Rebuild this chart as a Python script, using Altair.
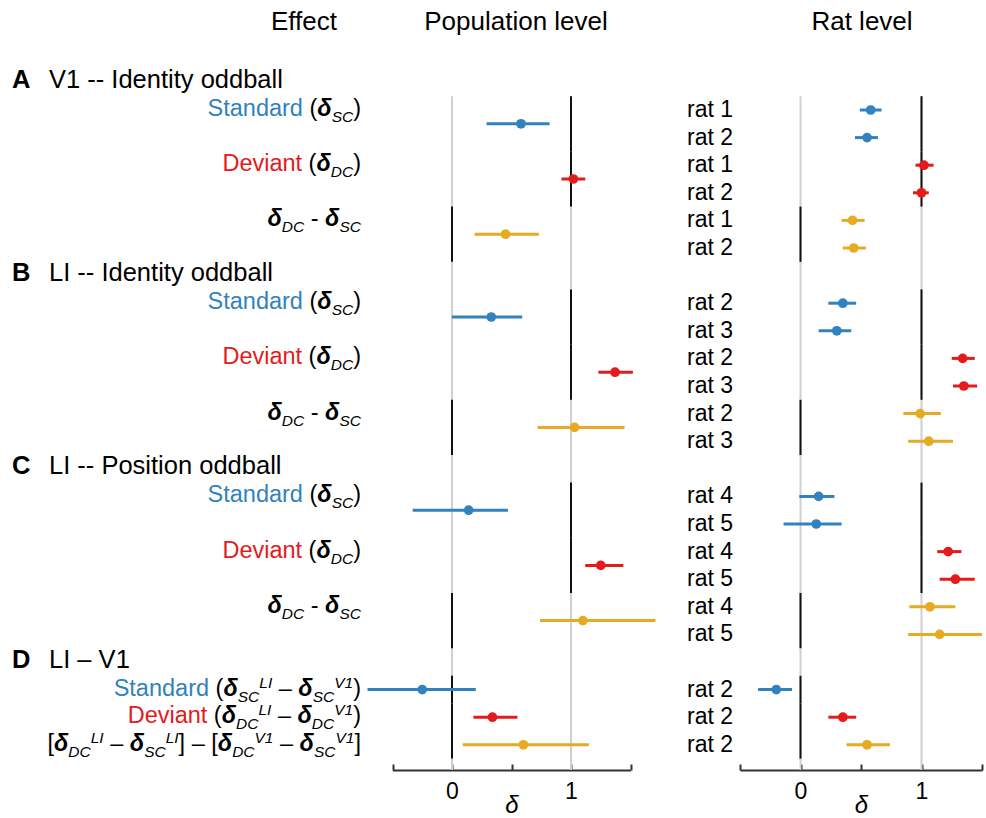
import altair as alt
import pandas as pd

# ---------------------------------------------------------------- data ----
SECTION_LETTERS = ["A", "B", "C", "D"]
SECTION_TITLES = ["V1 -- Identity oddball", "LI -- Identity oddball",
                  "LI -- Position oddball", "LI – V1"]
SECTION_RATS = [["rat 1", "rat 2"], ["rat 2", "rat 3"], ["rat 4", "rat 5"], ["rat 2"]]
EFFECT_COLORS = ["#3182bd", "#e41a1c", "#e6ab22"]   # standard, deviant, difference
# value of "no effect" for each effect row (ratios against 1, differences against 0)
NULL_VALUES = [[1, 1, 0], [1, 1, 0], [1, 1, 0], [0, 0, 0]]

# population level: section x effect
POP_EST = [0.58, 1.02, 0.45, 0.33, 1.37, 1.03, 0.14, 1.25, 1.10, -0.25, 0.34, 0.60]
POP_LO = [0.29, 0.92, 0.19, 0.00, 1.23, 0.72, -0.33, 1.12, 0.74, -0.71, 0.18, 0.09]
POP_HI = [0.82, 1.12, 0.73, 0.59, 1.52, 1.45, 0.47, 1.44, 1.71, 0.20, 0.55, 1.15]

# rat level: section x effect x rat
RAT_EST = [0.58, 0.55, 1.02, 1.00, 0.43, 0.44,
           0.35, 0.30, 1.34, 1.35, 0.99, 1.06,
           0.15, 0.13, 1.22, 1.28, 1.07, 1.15,
           -0.20, 0.35, 0.55]
RAT_LO = [0.49, 0.45, 0.95, 0.93, 0.34, 0.35,
          0.23, 0.15, 1.25, 1.26, 0.85, 0.89,
          -0.01, -0.14, 1.13, 1.15, 0.90, 0.89,
          -0.35, 0.23, 0.38]
RAT_HI = [0.67, 0.64, 1.10, 1.06, 0.53, 0.54,
          0.46, 0.42, 1.44, 1.46, 1.16, 1.26,
          0.28, 0.34, 1.33, 1.44, 1.28, 1.50,
          -0.07, 0.46, 0.74]

AXIS_TICKS = [-0.5, 0, 0.5, 1, 1.5]
AXIS_LABELS = [0, 1]
COLUMN_HEADERS = ["Effect", "Population level", "Rat level"]

# ------------------------------------------------------- label pieces ----
BLACK = "#000000"


def delta(sub, sup=""):
    segs = [("δ", "d", BLACK), (sub, "s", BLACK)]
    if sup:
        segs.append((sup, "p", BLACK))
    return segs


def n(text, color=BLACK):
    return [(text, "n", color)]


LABELS_SIMPLE = [
    n("Standard ", EFFECT_COLORS[0]) + n("(") + delta("SC") + n(")"),
    n("Deviant ", EFFECT_COLORS[1]) + n("(") + delta("DC") + n(")"),
    delta("DC") + n(" - ") + delta("SC"),
]
LABELS_CONTRAST = [
    n("Standard ", EFFECT_COLORS[0]) + n("(") + delta("SC", "LI") + n(" – ")
    + delta("SC", "V1") + n(")"),
    n("Deviant ", EFFECT_COLORS[1]) + n("(") + delta("DC", "LI") + n(" – ")
    + delta("DC", "V1") + n(")"),
    n("[") + delta("DC", "LI") + n(" – ") + delta("SC", "LI") + n("] – [")
    + delta("DC", "V1") + n(" – ") + delta("SC", "V1") + n("]"),
]

# ------------------------------------------------------------ layout ----
FONT = "Liberation Sans"
W, H = 986, 770
MAIN_SIZE, SCRIPT_SIZE = 23.5, 15.5
LABEL_RIGHT = 361
ADVANCE = {" ": 278, "(": 333, ")": 333, "-": 333, "–": 556, "[": 278,
           "]": 278, "1": 556, "C": 722, "D": 722, "I": 278, "L": 556, "S": 667,
           "V": 667, "a": 556, "d": 556, "e": 556, "i": 222, "n": 556, "r": 333,
           "t": 278, "v": 500, "δ": 611}
KIND_STYLE = {
    "n": dict(fontSize=MAIN_SIZE, fontStyle="normal", fontWeight="normal", dy=6),
    "d": dict(fontSize=MAIN_SIZE, fontStyle="italic", fontWeight="bold", dy=6),
    "s": dict(fontSize=SCRIPT_SIZE, fontStyle="italic", fontWeight="normal", dy=12),
    "p": dict(fontSize=SCRIPT_SIZE, fontStyle="italic", fontWeight="normal", dy=-2),
}


def seg_width(text, kind):
    size = KIND_STYLE[kind]["fontSize"]
    return sum(ADVANCE.get(ch, 556) for ch in text) * size / 1000.0


# ------------------------------------------------------ build tables ----
pop_rows, rat_rows, seg_rows, null_rows, head_rows, ratlab_rows = [], [], [], [], [], []
row = 0
ri = 0
for s, rats in enumerate(SECTION_RATS):
    head_rows.append({"row": row, "letter": SECTION_LETTERS[s], "title": SECTION_TITLES[s]})
    nr = len(rats)
    labels = LABELS_CONTRAST if nr == 1 else LABELS_SIMPLE
    for e in range(3):
        rows = [row + 1 + e * nr + k for k in range(nr)]
        pi = s * 3 + e
        pop_rows.append({"row": sum(rows) / nr, "est": POP_EST[pi], "lo": POP_LO[pi],
                         "hi": POP_HI[pi], "color": EFFECT_COLORS[e]})
        for k, r in enumerate(rows):
            rat_rows.append({"row": r, "est": RAT_EST[ri], "lo": RAT_LO[ri],
                             "hi": RAT_HI[ri], "color": EFFECT_COLORS[e]})
            ratlab_rows.append({"row": r, "rat": rats[k]})
            ri += 1
        null_rows.append({"x": NULL_VALUES[s][e], "y": rows[0] - 0.5, "y2": rows[-1] + 0.5})
        segs = labels[e]
        total = sum(seg_width(t, kd) for t, kd, _ in segs)
        px = LABEL_RIGHT - total
        for t, kd, c in segs:
            # text marks drop outer spaces, so shift the piece past its leading ones
            lead = t[: len(t) - len(t.lstrip(" "))]
            seg_rows.append({"row": rows[0], "px": px + seg_width(lead, kd),
                             "text": t.strip(" "), "kind": kd, "color": c})
            px += seg_width(t, kd)
    row += 1 + 3 * nr

n_rows = row
pop_df = pd.DataFrame(pop_rows)
rat_df = pd.DataFrame(rat_rows)
seg_df = pd.DataFrame(seg_rows)
null_df = pd.DataFrame(null_rows)
head_df = pd.DataFrame(head_rows)
ratlab_df = pd.DataFrame(ratlab_rows)
grey_df = pd.DataFrame({"x": [0, 1], "y": [0.5, 0.5]})
col_df = pd.DataFrame({"text": COLUMN_HEADERS, "px": [304, 516, 862]})

# ------------------------------------------------------------ scales ----
Y = alt.Scale(domain=[0, n_rows - 1], range=[82.4, 744.8], nice=False, zero=False)
X_POP = alt.Scale(domain=[-0.5, 1.5], range=[392.5, 630.5], nice=False, zero=False)
X_RAT = alt.Scale(domain=[-0.5, 1.5], range=[740, 982], nice=False, zero=False)
AXIS_C = "#333333"


def tick_axis():
    # domain line and upward ticks, sitting at the bottom of the rows
    return alt.Axis(orient="top", offset=-H, values=AXIS_TICKS, labels=False, title="",
                    tickSize=6, tickWidth=2, domainWidth=2, tickColor=AXIS_C,
                    domainColor=AXIS_C, grid=False)


def label_axis():
    return alt.Axis(orient="bottom", values=AXIS_LABELS, format="d", domain=False,
                    ticks=False, tickSize=0, grid=False, labelFont=FONT, labelFontSize=23,
                    labelColor="black", labelPadding=10, title="δ", titleFont=FONT,
                    titleFontSize=24, titleFontStyle="italic", titleFontWeight="normal",
                    titleColor="black", titleBaseline="alphabetic", titleY=42)


def yenc(field="row"):
    return alt.Y(f"{field}:Q", scale=Y, axis=None)


def panel(xs, est_df):
    grey = alt.Chart(grey_df).mark_rule(color="#cfcfcf", strokeWidth=2).encode(
        x=alt.X("x:Q", scale=xs, axis=tick_axis()),
        y=yenc("y"), y2=alt.value("height"))
    nulls = alt.Chart(null_df).mark_rule(color="#111111", strokeWidth=2).encode(
        x=alt.X("x:Q", scale=xs, axis=None), y=yenc("y"), y2="y2:Q")
    bars = alt.Chart(est_df).mark_rule(strokeWidth=3).encode(
        x=alt.X("lo:Q", scale=xs, axis=label_axis()), x2="hi:Q", y=yenc(),
        color=alt.Color("color:N", scale=None))
    dots = alt.Chart(est_df).mark_circle(size=95, opacity=1).encode(
        x=alt.X("est:Q", scale=xs, axis=None), y=yenc(),
        color=alt.Color("color:N", scale=None))
    return [grey, nulls, bars, dots]


layers = panel(X_POP, pop_df) + panel(X_RAT, rat_df)

# effect labels, one text layer per typographic style
for kd, st in KIND_STYLE.items():
    sub = seg_df[seg_df["kind"] == kd]
    layers.append(
        alt.Chart(sub).mark_text(font=FONT, align="left", baseline="alphabetic", **st).encode(
            x=alt.X("px:Q", scale=None, axis=None), y=yenc(), text="text:N",
            color=alt.Color("color:N", scale=None)))

# section headers
layers.append(alt.Chart(head_df).mark_text(
    font=FONT, fontSize=25.5, fontWeight="bold", align="left", baseline="alphabetic",
    dy=5.5, color="black").encode(x=alt.value(12), y=yenc(), text="letter:N"))
layers.append(alt.Chart(head_df).mark_text(
    font=FONT, fontSize=25.5, align="left", baseline="alphabetic", dy=5.5,
    color="black").encode(x=alt.value(49), y=yenc(), text="title:N"))

# rat names
layers.append(alt.Chart(ratlab_df).mark_text(
    font=FONT, fontSize=23, align="left", baseline="alphabetic", dy=7,
    color="black").encode(x=alt.value(687), y=yenc(), text="rat:N"))

# column headers
layers.append(alt.Chart(col_df).mark_text(
    font=FONT, fontSize=26, align="center", baseline="alphabetic",
    color="black").encode(x=alt.X("px:Q", scale=None, axis=None), y=alt.value(30),
                          text="text:N"))

chart = alt.layer(*layers).resolve_scale(x="independent").resolve_axis(
    x="independent").properties(
    width=W, height=H, autosize=alt.AutoSizeParams(type="none"),
    padding={"left": 0, "top": 0, "right": 0, "bottom": 818 - H},
    background="white",
).configure_view(stroke="transparent")

chart.save("out.html", embed_options={"renderer": "svg", "actions": False})
